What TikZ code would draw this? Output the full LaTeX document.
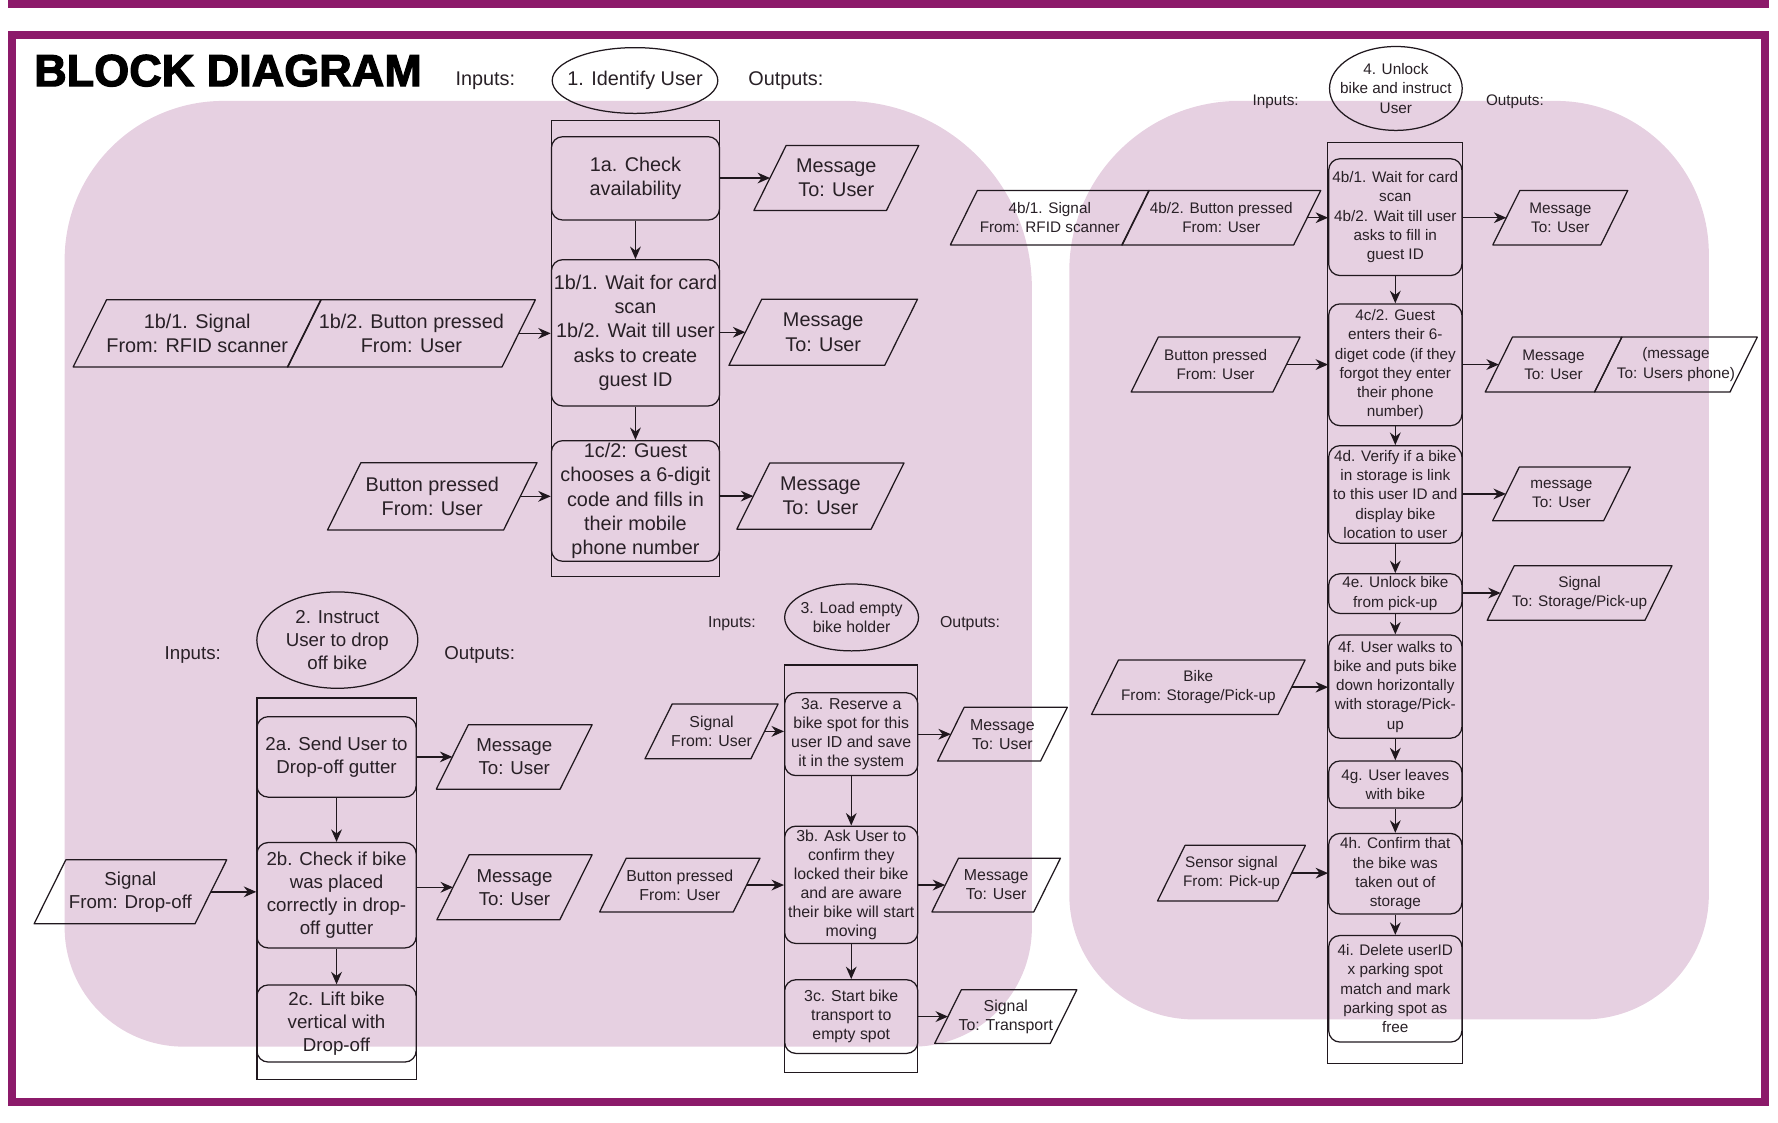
\documentclass[tikz,border=0pt]{standalone}
\usepackage{fontspec}
\setmainfont{Liberation Sans}
\newfontfamily\titlefont[FakeBold=2.5]{Liberation Sans}
\usetikzlibrary{shapes.geometric,arrows.meta}
\definecolor{framec}{RGB}{140,26,106}
\definecolor{pinkbg}{RGB}{230,208,225}
\definecolor{lc}{RGB}{32,24,30}
\definecolor{tc}{RGB}{40,32,38}
\newcommand\fsA{\fontsize{17.5}{21.3}\selectfont}
\newcommand\fsB{\fontsize{16.5}{20.5}\selectfont}
\newcommand\fsC{\fontsize{14}{16.8}\selectfont}
\newcommand\fsD{\fontsize{13.5}{17}\selectfont}
\newcommand\iobox[7]{%
  \pgfmathsetmacro\iow{#4-#5/2}%
  \pgfmathsetmacro\ios{#5/4}%
  \node[iotext, font=#6, minimum width=\iow pt, minimum height=#5pt] (#1) at (#2,#3) {#7};
  \draw[ioline] ([xshift=\ios pt]#1.north west) -- ([xshift=\ios pt]#1.north east) -- ([xshift=-\ios pt]#1.south east) -- ([xshift=-\ios pt]#1.south west) -- cycle;}
\begin{document}
\begin{tikzpicture}[x=1pt,y=-1pt,
  every node/.style={text=tc},
  box/.style={draw=lc, line width=1.1pt, rounded corners=10pt, inner sep=0pt, align=center},
  boxA/.style={box, font=\fsA, minimum width=148.3pt},
  boxB/.style={box, font=\fsB, minimum width=140.5pt},
  boxC/.style={box, font=\fsC, minimum width=117.5pt},
  boxD/.style={box, font=\fsD, minimum width=117.5pt},
  cont/.style={draw=lc, line width=1.1pt, inner sep=0pt},
  oval/.style={ellipse, draw=lc, line width=1.1pt, inner sep=0pt},
  iotext/.style={inner sep=0pt, align=center},
  ioline/.style={draw=lc, line width=1.1pt, line join=round},
  arr/.style={draw=lc, line width=1.2pt, -{Stealth[length=11pt,width=9.5pt]}},
  lbl/.style={inner sep=0pt}
]
\useasboundingbox (0,0) rectangle (1568,990);
% pink backgrounds
\fill[pinkbg] (57,500) [rounded corners=140pt] -- (57,89) -- (480,89) [rounded corners=165pt] -- (910,89) -- (910,500) [rounded corners=105pt] -- (910,923) -- (480,923) [rounded corners=105pt] -- (57,923) -- cycle;
\fill[pinkbg] (943,500) [rounded corners=150pt] -- (943,89) -- (1220,89) [rounded corners=135pt] -- (1507,89) -- (1507,500) [rounded corners=110pt] -- (1507,899) -- (1220,899) [rounded corners=110pt] -- (943,899) -- cycle;
% frame
\fill[framec] (7,0) rectangle (1560,7.2);
\draw[framec, line width=7pt] (10.5,30.8) rectangle (1556.5,972);
% title
\node[anchor=base west, inner sep=0pt, font=\titlefont\bfseries\fontsize{39.7}{42}\selectfont, text=black] (title) at (30,76) {BLOCK DIAGRAM};

% ===== Group 1 =====
\node[lbl, font=\fsA] (in1) at (428,71) {Inputs:};
\node[oval, minimum width=146pt, minimum height=58pt, label={[font=\fsA, align=center]center:1. Identify User}] (g1) at (560,71) {};
\node[lbl, font=\fsA] (out1) at (693,71) {Outputs:};
\node[cont, minimum width=148.3pt, minimum height=402pt] (c1) at (560.4,307.5) {};
\node[boxA, minimum height=73.5pt] (b1a) at (560.4,157.3) {1a. Check\\availability};
\node[boxA, minimum height=129pt] (b1b) at (560.4,293.5) {1b/1. Wait for card\\scan\\1b/2. Wait till user\\asks to create\\guest ID};
\node[boxA, minimum height=106.4pt] (b1c) at (560.4,441.8) {1c/2: Guest\\chooses a 6-digit\\code and fills in\\their mobile\\phone number};
\iobox{m1a}{737.5}{157}{145}{57}{\fsA}{Message\\To: User}
\iobox{m1b}{726}{293}{166}{58}{\fsA}{Message\\To: User}
\iobox{m1c}{723.5}{437.5}{147}{58}{\fsA}{Message\\To: User}
\iobox{i1b1}{173.9}{294}{218.3}{58.8}{\fsA}{1b/1. Signal\\From: RFID scanner}
\iobox{i1b2}{362.8}{294}{218.3}{58.8}{\fsA}{1b/2. Button pressed\\From: User}
\iobox{i1c}{381.2}{437.7}{184.4}{59}{\fsA}{Button pressed\\From: User}
\draw[arr] (b1a.south) -- (b1b.north);
\draw[arr] (b1b.south) -- (b1c.north);
\draw[arr] (b1a.east |- m1a.west) -- (m1a.west);
\draw[arr] (b1b.east |- m1b.west) -- (m1b.west);
\draw[arr] (b1c.east |- m1c.west) -- (m1c.west);
\draw[arr] (i1b2.east) -- (i1b2.east -| b1b.west);
\draw[arr] (i1c.east) -- (i1c.east -| b1c.west);

% ===== Group 2 =====
\node[lbl, font=\fsB] (in2) at (170,577.6) {Inputs:};
\node[oval, minimum width=142pt, minimum height=85pt, label={[font=\fsB, align=center]center:2. Instruct\\User to drop\\off bike}] (g2) at (297.5,564.5) {};
\node[lbl, font=\fsB] (out2) at (423,577.6) {Outputs:};
\node[cont, minimum width=140.5pt, minimum height=336.4pt] (c2) at (296.8,783.8) {};
\node[boxB, minimum height=71pt] (b2a) at (296.8,667.5) {2a. Send User to\\Drop-off gutter};
\node[boxB, minimum height=93pt] (b2b) at (296.8,789.5) {2b. Check if bike\\was placed\\correctly in drop-\\off gutter};
\node[boxB, minimum height=68pt] (b2c) at (296.8,902.6) {2c. Lift bike\\vertical with\\Drop-off};
\iobox{m2a}{453.5}{667.5}{137}{56.5}{\fsB}{Message\\To: User}
\iobox{m2b}{453.7}{782.5}{136.5}{57}{\fsB}{Message\\To: User}
\iobox{i2b}{115}{786.5}{169.5}{56}{\fsB}{Signal\\From: Drop-off}
\draw[arr] (b2a.south) -- (b2b.north);
\draw[arr] (b2b.south) -- (b2c.north);
\draw[arr] (b2a.east |- m2a.west) -- (m2a.west);
\draw[arr] (b2b.east |- m2b.west) -- (m2b.west);
\draw[arr] (i2b.east) -- (i2b.east -| b2b.west);

% ===== Group 3 =====
\node[lbl, font=\fsC] (in3) at (645.5,549.6) {Inputs:};
\node[oval, minimum width=118pt, minimum height=59pt, label={[font=\fsC, align=center]center:3. Load empty\\bike holder}] (g3) at (751,544.5) {};
\node[lbl, font=\fsC] (out3) at (855.5,549.6) {Outputs:};
\node[cont, minimum width=117.5pt, minimum height=359.5pt] (c3) at (750.7,766.3) {};
\node[boxC, minimum height=73pt] (b3a) at (750.7,647.5) {3a. Reserve a\\bike spot for this\\user ID and save\\it in the system};
\node[boxC, minimum height=103.5pt] (b3b) at (750.7,780.3) {3b. Ask User to\\confirm they\\locked their bike\\and are aware\\their bike will start\\moving};
\node[boxC, minimum height=65pt] (b3c) at (750.7,896.5) {3c. Start bike\\transport to\\empty spot};
\iobox{i3a}{627.5}{645}{117}{48}{\fsC}{Signal\\From: User}
\iobox{i3b}{599.5}{780.5}{141}{47}{\fsC}{Button pressed\\From: User}
\iobox{m3a}{884}{647.5}{114}{47}{\fsC}{Message\\To: User}
\iobox{m3b}{878.5}{780.5}{113}{47}{\fsC}{Message\\To: User}
\iobox{s3c}{887}{896.5}{125}{47}{\fsC}{Signal\\To: Transport}
\draw[arr] (b3a.south) -- (b3b.north);
\draw[arr] (b3b.south) -- (b3c.north);
\draw[arr] (i3a.east) -- (i3a.east -| b3a.west);
\draw[arr] (i3b.east) -- (i3b.east -| b3b.west);
\draw[arr] (b3a.east |- m3a.west) -- (m3a.west);
\draw[arr] (b3b.east |- m3b.west) -- (m3b.west);
\draw[arr] (b3c.east |- s3c.west) -- (s3c.west);

% ===== Group 4 =====
\node[lbl, font=\fsD] (in4) at (1125,89.7) {Inputs:};
\node[oval, minimum width=117pt, minimum height=74pt, label={[font=\fsD, align=center]center:4. Unlock\\bike and instruct\\User}] (g4) at (1231,78) {};
\node[lbl, font=\fsD] (out4) at (1336,89.7) {Outputs:};
\node[cont, minimum width=119pt, minimum height=812pt] (c4) at (1230.5,531.8) {};
\node[boxD, minimum height=103pt] (b4b) at (1230.5,191.5) {4b/1. Wait for card\\scan\\4b/2. Wait till user\\asks to fill in\\guest ID};
\node[boxD, minimum height=107.4pt] (b4c) at (1230.5,321.7) {4c/2. Guest\\enters their 6-\\diget code (if they\\forgot they enter\\their phone\\number)};
\node[boxD, minimum height=86pt] (b4d) at (1230.5,436) {4d. Verify if a bike\\in storage is link\\to this user ID and\\display bike\\location to user};
\node[boxD, minimum height=35pt] (b4e) at (1230.5,523.5) {4e. Unlock bike\\from pick-up};
\node[boxD, minimum height=91pt] (b4f) at (1230.5,605.5) {4f. User walks to\\bike and puts bike\\down horizontally\\with storage/Pick-\\up};
\node[boxD, minimum height=41.5pt] (b4g) at (1230.5,691.8) {4g. User leaves\\with bike};
\node[boxD, minimum height=71pt] (b4h) at (1230.5,770.5) {4h. Confirm that\\the bike was\\taken out of\\storage};
\node[boxD, minimum height=94pt] (b4i) at (1230.5,872) {4i. Delete userID\\x parking spot\\match and mark\\parking spot as\\free};
\iobox{i4b1}{925.8}{192}{175}{47.6}{\fsD}{4b/1. Signal\\From: RFID scanner}
\iobox{i4b2}{1077}{192}{175}{47.6}{\fsD}{4b/2. Button pressed\\From: User}
\iobox{i4c}{1072}{321.5}{148.6}{48}{\fsD}{Button pressed\\From: User}
\iobox{i4f}{1056.8}{606}{188}{47.6}{\fsD}{Bike\\From: Storage/Pick-up}
\iobox{i4h}{1086}{770}{130}{48.6}{\fsD}{Sensor signal\\From: Pick-up}
\iobox{m4b}{1376}{192}{118.6}{47.6}{\fsD}{Message\\To: User}
\iobox{m4c1}{1370}{321.5}{120}{48}{\fsD}{Message\\To: User}
\iobox{m4c2}{1478}{321.5}{143}{48}{\fsD}{(message\\To: Users phone)}
\iobox{m4d}{1377}{435.6}{121}{47}{\fsD}{message\\To: User}
\iobox{m4e}{1393}{523}{162.6}{47.7}{\fsD}{Signal\\To: Storage/Pick-up}
\draw[arr] (b4b.south) -- (b4c.north);
\draw[arr] (b4c.south) -- (b4d.north);
\draw[arr] (b4d.south) -- (b4e.north);
\draw[arr] (b4e.south) -- (b4f.north);
\draw[arr] (b4f.south) -- (b4g.north);
\draw[arr] (b4g.south) -- (b4h.north);
\draw[arr] (b4h.south) -- (b4i.north);
\draw[arr] (i4b2.east) -- (i4b2.east -| b4b.west);
\draw[arr] (i4c.east) -- (i4c.east -| b4c.west);
\draw[arr] (i4f.east) -- (i4f.east -| b4f.west);
\draw[arr] (i4h.east) -- (i4h.east -| b4h.west);
\draw[arr] (b4b.east |- m4b.west) -- (m4b.west);
\draw[arr] (b4c.east |- m4c1.west) -- (m4c1.west);
\draw[arr] (b4d.east |- m4d.west) -- (m4d.west);
\draw[arr] (b4e.east |- m4e.west) -- (m4e.west);
\end{tikzpicture}
\end{document}
